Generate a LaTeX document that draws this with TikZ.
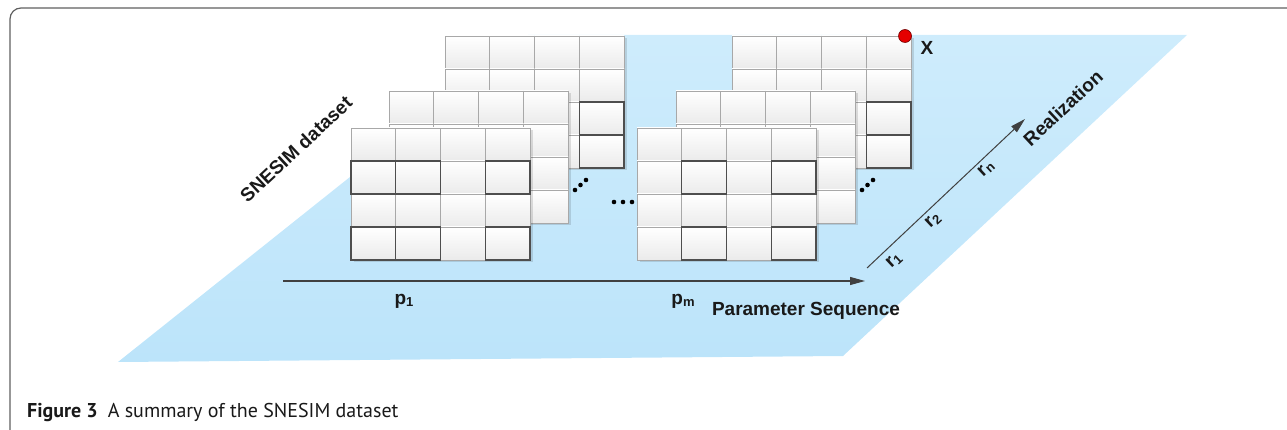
\documentclass[tikz,border=0pt]{standalone}
\usepackage{fontspec}
\setmainfont{Liberation Sans}
\newfontfamily\capfont{PT Sans}
\usetikzlibrary{arrows.meta}

\definecolor{planeTop}{RGB}{206,236,252}
\definecolor{planeBot}{RGB}{188,228,250}
\definecolor{cellLine}{RGB}{168,168,168}
\definecolor{cellDark}{RGB}{78,78,78}
\definecolor{arrowGray}{RGB}{64,64,64}
\definecolor{frameGray}{RGB}{95,95,95}
\definecolor{textDark}{RGB}{25,25,25}

\tikzset{
  cell/.style={draw=cellLine, line width=0.9pt, top color=white, bottom color=black!8},
  darkcell/.style={draw=cellDark, line width=1.1pt},
  gridshadow/.style={fill=black, opacity=0.12},
  lbl/.style={font=\bfseries\fontsize{19}{22}\selectfont, text=textDark, inner sep=0pt},
  seqarrow/.style={draw=arrowGray, line width=1pt, -{Triangle[length=15pt,width=8pt]}},
  dotmark/.style={circle, fill=black, inner sep=0pt, minimum size=4.6pt},
  reddot/.style={circle, fill=red!90!black, draw=red!45!black, line width=0.6pt, inner sep=0pt, minimum size=13pt},
}

% subscript used by the axis labels
\newcommand\axsub[1]{{\fontsize{13}{13}\selectfont\raisebox{-2.5pt}{#1}}}

% one 4x4 parameter grid with its upper-left corner at (#2,#3)
\newcommand\paramgrid[3]{%
  \begin{scope}[shift={(#2,#3)}]
    \fill[gridshadow] (2.5,2.5) rectangle (181.5,134.5);
    \foreach \c in {0,...,3}
      \foreach \r in {0,...,3}
        \path[cell] (\c*44.75,\r*33) rectangle ++(44.75,33);
    \coordinate (#1) at (0,0);
  \end{scope}}

% darker outline on selected cells (column/row pairs)
\newcommand\darkcells[3]{%
  \begin{scope}[shift={(#1,#2)}]
    \foreach \c/\r in {#3}
      \draw[darkcell] (\c*44.75,\r*33) rectangle ++(44.75,33);
  \end{scope}}

\begin{document}
\begin{tikzpicture}[x=1pt, y=-1pt]
\useasboundingbox (0,0) rectangle (1287,430);

% outer frame
\draw[frameGray, line width=1.2pt, rounded corners=11pt] (10,431) -- (10,8) -- (1288,8);

% realization plane
\shade[top color=planeTop, bottom color=planeBot]
  (118,362) -- (843,356) -- (1187,35) -- (528,35) -- cycle;

% back grids
\paramgrid{gbl}{445}{36}
\darkcells{445}{36}{3/2,3/3}
\paramgrid{gbr}{732}{36}
\darkcells{732}{36}{3/2,3/3}

% middle grids
\paramgrid{gml}{389}{91}
\paramgrid{gmr}{676}{91}

% front grids
\paramgrid{gfl}{351}{128}
\darkcells{351}{128}{0/1,1/1,3/1,0/3,1/3,3/3}
\paramgrid{gfr}{637}{128}
\darkcells{637}{128}{1/1,3/1,1/3,3/3}

% ellipsis marks
\node[dotmark] (dla) at (575,190) {};
\node[dotmark] (dlb) at (580.5,185) {};
\node[dotmark] (dlc) at (586,180) {};
\node[dotmark] (dma) at (614,202) {};
\node[dotmark] (dmb) at (623,202) {};
\node[dotmark] (dmc) at (632,202) {};
\node[dotmark] (dra) at (862,190) {};
\node[dotmark] (drb) at (867.5,185) {};
\node[dotmark] (drc) at (873,180) {};

% marked point
\node[reddot] (xdot) at (905,36) {};
\node[lbl] (xlbl) at (927,48) {X};

% parameter axis
\coordinate (pstart) at (283,281);
\coordinate (pend) at (865,281);
\draw[seqarrow] (pstart) -- (pend);
\node[lbl] (p1) at (404,301) {p\axsub{1}};
\node[lbl] (pm) at (683,301) {p\axsub{m}};
\node[lbl] (pseq) at (806,311) {Parameter Sequence};

% realization axis
\coordinate (rstart) at (867,268);
\coordinate (rend) at (1025,119);
\draw[seqarrow] (rstart) -- (rend);
\node[lbl, rotate=43] (r1) at (894,261) {r\axsub{1}};
\node[lbl, rotate=43] (r2) at (933,221) {r\axsub{2}};
\node[lbl, rotate=43] (rn) at (986,169) {r\axsub{n}};
\node[lbl, rotate=43] (real) at (1063,108) {Realization};

% dataset label
\node[lbl, rotate=43] (snesim) at (296,149) {SNESIM dataset};

% caption
\node[anchor=base west, inner sep=0pt, font=\capfont\fontsize{20}{24}\selectfont, text=black!90] (cap)
  at (27,417) {\textbf{Figure 3}\hspace{10pt}A summary of the SNESIM dataset};
\end{tikzpicture}
\end{document}
